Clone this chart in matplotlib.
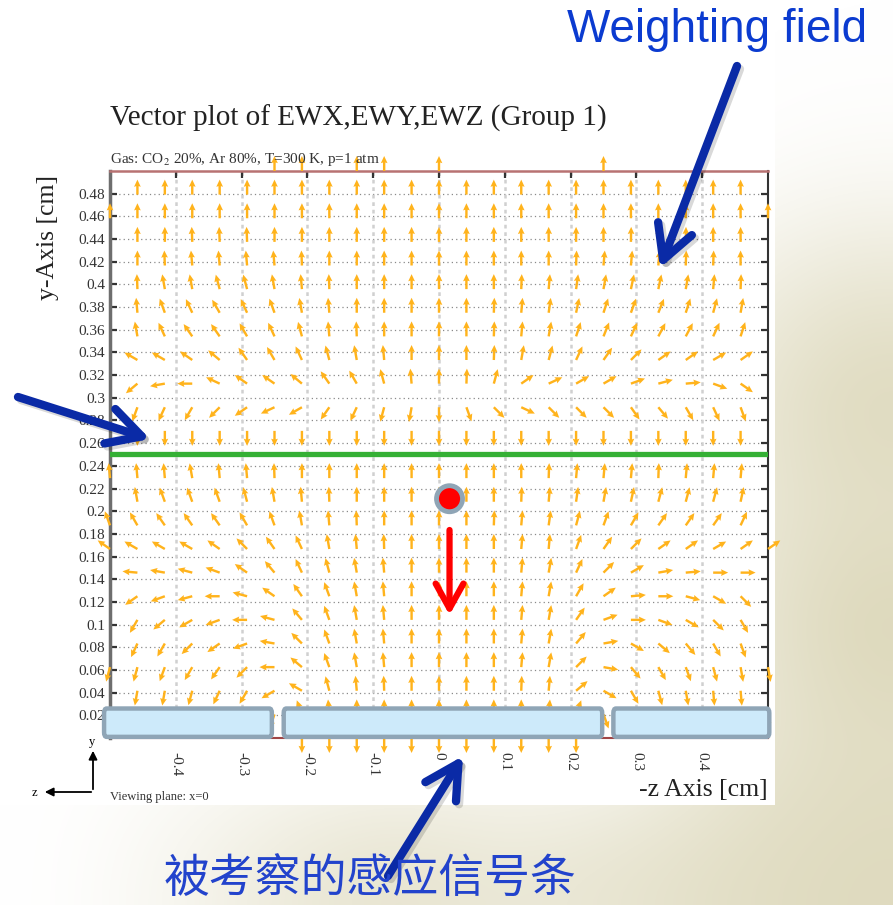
import numpy as np
import matplotlib
matplotlib.use("Agg")
import matplotlib.pyplot as plt
from matplotlib.patches import Rectangle, Circle, FancyBboxPatch

plt.rcParams['font.family'] = ['Liberation Serif', 'DejaVu Serif']
plt.rcParams['mathtext.fontset'] = 'stix'

# Sampling grid of the field plot (-z, y in cm)
z_cols = np.linspace(-0.5, 0.5, 25)
y_rows = np.linspace(0.5, 0.0, 25)   # top row first

N = None
# arrow direction in degrees (90 = up), rows from y=0.5 down to y=0
field_angle = [
    [N, N, N, N, N, N, 90, 90, N, 90, 90, N, 90, N, N, N, N, N, 90, N, N, N, N, N, N],
    [N, 90, 90, 90, 90, 90, 90, 90, 90, 90, 90, 90, 90, 90, 90, 90, 90, 90, 90, 90, 90, 90, 90, 90, N],
    [90, 90, 90, 90, 90, 90, 90, 90, 90, 90, 90, 90, 90, 90, 90, 90, 90, 90, 90, 90, 90, 90, 90, 90, 90],
    [N, 90, 90, 92, 92, 92, 90, 90, 90, 90, 90, 90, 90, 90, 90, 90, 90, 90, 90, 89, 88, 89, 90, 90, N],
    [N, 90, 92, 95, 95, 95, 95, 92, 90, 90, 90, 90, 90, 90, 90, 90, 90, 88, 85, 85, 85, 88, 88, 90, N],
    [N, 92, 100, 100, 105, 105, 100, 95, 92, 90, 90, 90, 90, 90, 90, 88, 85, 82, 80, 78, 78, 80, 85, 88, N],
    [N, 95, 110, 115, 120, 115, 110, 100, 95, 90, 90, 90, 90, 90, 88, 85, 82, 78, 72, 70, 68, 72, 75, 80, N],
    [N, 100, 115, 125, 125, 120, 115, 105, 95, 92, 90, 90, 90, 90, 88, 85, 80, 72, 68, 65, 62, 62, 65, 72, N],
    [N, 150, 150, 145, 140, 125, 120, 115, 105, 100, 95, 90, 90, 90, 88, 80, 75, 65, 55, 45, 35, 35, 30, 35, N],
    [N, 220, 190, 180, 155, 145, 145, 140, 125, 120, 105, 95, 90, 88, 75, 35, 25, 30, 30, 20, 15, 5, 340, 325, N],
    [N, 250, 245, 240, 225, 215, 205, 210, 235, 245, 255, 260, 270, 290, 315, 335, 315, 315, 315, 305, 310, 300, 295, 290, N],
    [N, 270, 270, 270, 270, 270, 270, 270, 270, 270, 270, 270, 270, 270, 270, 270, 270, 270, 270, 270, 270, 270, 270, 270, N],
    [N, N, N, N, N, N, N, N, N, N, N, N, N, N, N, N, N, N, N, N, N, N, N, N, N],
    [95, 95, 95, 100, 95, 95, 92, 90, 90, 90, 90, 90, 90, 90, 90, 90, 88, 85, 85, 85, 88, 85, 85, 85, N],
    [N, 100, 110, 110, 110, 105, 100, 95, 92, 90, 90, 90, 90, 90, 90, 88, 85, 82, 80, 78, 75, 75, 75, 78, N],
    [110, 120, 125, 125, 125, 120, 110, 100, 95, 92, 90, 90, 90, 90, 88, 85, 82, 75, 70, 60, 55, 55, 55, 65, N],
    [145, 150, 150, 150, 145, 135, 125, 115, 100, 95, 92, 90, 90, 90, 90, 85, 85, 70, 55, 45, 35, 35, 30, 35, 35],
    [N, 175, 170, 165, 160, 145, 130, 115, 105, 100, 95, 90, 90, 90, 90, 85, 80, 65, 45, 30, 10, 5, 0, 0, N],
    [N, 215, 200, 195, 180, 165, 145, 125, 110, 100, 95, 90, 90, 90, 90, 85, 80, 60, 35, 5, 0, 345, 330, 315, N],
    [N, 240, 220, 210, 200, 180, 165, 130, 110, 100, 95, 90, 90, 90, 90, 85, 80, 55, 20, 0, 340, 330, 315, 300, N],
    [N, 245, 240, 225, 215, 200, 170, 135, 110, 100, 95, 90, 90, 90, 90, 85, 80, 50, 10, 330, 320, 310, 300, 290, N],
    [255, 255, 250, 240, 235, 225, 180, 140, 110, 100, 95, 90, 90, 90, 90, 85, 80, 45, 350, 310, 300, 290, 285, 280, 280],
    [N, 260, 260, 255, 245, 240, 210, 150, 105, 95, 92, 90, 90, 90, 90, 88, 85, 40, 330, 300, 285, 280, 275, 275, N],
    [N, 265, 265, 265, 260, 255, 250, 110, 95, 90, 90, 90, 90, 90, 90, 90, 85, 70, 290, 280, 275, 275, 270, 270, 270],
    [N, N, N, N, N, N, N, 270, 270, 270, 270, 270, 270, 270, 270, 270, 270, 270, N, N, N, N, N, N, N],
]

# readout strips (z extent, cm) and mesh height
strips = [(-0.509, -0.254), (-0.236, 0.248), (0.265, 0.502)]
strip_height = 0.027
mesh_y = 0.25
charge_pos = (0.016, 0.211)

y_ticks = [round(0.02 * i, 2) for i in range(1, 25)]
x_ticks = [-0.4, -0.3, -0.2, -0.1, 0.0, 0.1, 0.2, 0.3, 0.4]

W, H = 893, 905
fig = plt.figure(figsize=(W / 100, H / 100), dpi=100)

# slide background (beige blotches), then the white screenshot area
bg = fig.add_axes([0, 0, 1, 1], zorder=0)
bg.axis('off')
beige_alpha = np.array([
    [0, 0, 0, 0, 0, 0, 0, 0.0],
    [0, 0, 0, 0, 0, 0, 0, 0.1],
    [0, 0, 0, 0, 0, 0, 0.3, 0.6],
    [0, 0, 0, 0, 0, 0, 0.5, 0.95],
    [0, 0, 0, 0, 0, 0, 0.5, 0.75],
    [0, 0, 0, 0, 0, 0, 0.5, 1.0],
    [0, 0, 0, 0, 0, 0, 0.5, 0.8],
    [0, 0.2, 0.5, 0.7, 0.55, 0.65, 0.8, 0.9],
])
rgba = np.zeros(beige_alpha.shape + (4,))
rgba[..., 0], rgba[..., 1], rgba[..., 2] = 0.86, 0.84, 0.72
rgba[..., 3] = beige_alpha
bg.imshow(rgba, extent=(0, W, H, 0), interpolation='bicubic', aspect='auto')
bg.set_xlim(0, W)
bg.set_ylim(H, 0)
bg.add_patch(Rectangle((0, 0), 775, 805, facecolor='white', edgecolor='none'))

# field plot
ax = fig.add_axes([110 / W, (H - 738) / H, 658 / W, (738 - 171) / H], zorder=2)
ax.set_xlim(-0.5, 0.5)
ax.set_ylim(0, 0.5)

ZZ, YY = np.meshgrid(z_cols, y_rows)
ang = np.array([[np.nan if a is None else a for a in row] for row in field_angle], dtype=float)
U = np.cos(np.radians(ang))
V = np.sin(np.radians(ang))
q = ax.quiver(ZZ, YY, U, V, angles='uv', pivot='tail', units='inches', width=0.024,
              headwidth=2.8, headlength=3.0, headaxislength=2.7,
              scale_units='inches', scale=1 / 0.15, color='#FFB31C', zorder=3)
q.set_clip_on(False)

for yt in y_ticks:
    ax.axhline(yt, color='#8a8a8a', lw=0.9, ls=(0, (1, 2.5)), zorder=1)
for xt in x_ticks:
    ax.axvline(xt, color='#d0d0d0', lw=1.8, ls=(0, (1.5, 1.5)), zorder=1)

ax.set_yticks(y_ticks)
ax.set_yticklabels([f'{v:g}' for v in y_ticks], fontsize=11, color='#333333')
ax.set_xticks(x_ticks)
ax.set_xticklabels([f'{v:g}' for v in x_ticks], fontsize=11, rotation=-90, color='#333333')
ax.tick_params(direction='in', top=True, right=True, length=5, width=1.6, color='#333333')
ax.tick_params(axis='x', pad=10)
ax.spines['left'].set_color('#6e6e6e')
ax.spines['left'].set_linewidth(2.5)
ax.spines['right'].set_color('#333333')
ax.spines['right'].set_linewidth(1.5)
ax.spines['top'].set_color('#b87272')
ax.spines['top'].set_linewidth(1.8)
ax.spines['bottom'].set_color('#a04545')
ax.spines['bottom'].set_linewidth(1.5)

ax.axhline(mesh_y, color='#35b035', lw=3.8, zorder=4)

for z0, z1 in strips:
    ax.add_patch(FancyBboxPatch((z0, 0.001), z1 - z0, strip_height - 0.002,
                                boxstyle='round,pad=0,rounding_size=0.004',
                                facecolor='#cdeafa', edgecolor='#8fa5b6', lw=3.2,
                                zorder=5, clip_on=False))

# overlay in pixel coordinates for slide annotations
ov = fig.add_axes([0, 0, 1, 1], zorder=5)
ov.axis('off')
ov.set_xlim(0, W)
ov.set_ylim(H, 0)

ov.text(110, 118, 'Vector plot of EWX,EWY,EWZ (Group 1)', fontsize=21, ha='left', va='center', color='#222222')
ov.text(110, 159, 'Gas: CO$_2$ 20%, Ar 80%, T=300 K, p=1 atm', fontsize=11, ha='left', va='center', color='#333333')
ov.text(48, 175, 'y-Axis [cm]', fontsize=18.5, rotation=90, ha='center', va='top', color='#222222')
ov.text(768, 790, '-z Axis [cm]', fontsize=18.5, ha='right', va='center', color='#222222')
ov.text(110, 797, 'Viewing plane: x=0', fontsize=9, ha='left', va='center', color='#333333')

# axis triad
ov.annotate('', xy=(93, 748), xytext=(93, 792),
            arrowprops=dict(arrowstyle='-|>,head_length=0.5,head_width=0.25', lw=1.3, color='black'))
ov.annotate('', xy=(42, 792), xytext=(94, 792),
            arrowprops=dict(arrowstyle='-|>,head_length=0.5,head_width=0.25', lw=1.3, color='black'))
ov.text(92, 742, 'y', fontsize=9, ha='center', va='center')
ov.text(34, 793, 'z', fontsize=9, ha='center', va='center')

# charge and its drift direction
cx, cy = ax.transData.transform(charge_pos)
px, py = cx, H - cy
ov.add_patch(Circle((px, py), 13, facecolor='#ff0000', edgecolor='#8fa5b6', lw=3.5, zorder=6))
ov.annotate('', xy=(px, 615), xytext=(px, 530),
            arrowprops=dict(arrowstyle='->,head_length=1.8,head_width=1.0', lw=4.5, color='#ff0000',
                            shrinkA=0, shrinkB=0))

blue = '#0a2aa6'
for tail, head in [((18, 397), (150, 439)), ((737, 66), (660, 268)), ((388, 876), (463, 756))]:
    ov.annotate('', xy=(head[0] + 3, head[1] + 3), xytext=(tail[0] + 3, tail[1] + 3),
                arrowprops=dict(arrowstyle='->,head_length=2.4,head_width=1.3', lw=6, color='#000000',
                                alpha=0.15, shrinkA=0, shrinkB=0))
    ov.annotate('', xy=head, xytext=tail,
                arrowprops=dict(arrowstyle='->,head_length=2.4,head_width=1.3', lw=6, color=blue,
                                shrinkA=0, shrinkB=0))

ov.text(717, 30, 'Weighting field', fontsize=33, ha='center', va='center', color='#0b3bd0',
        family=['Liberation Sans', 'DejaVu Sans'])
ov.text(370, 880, '被考察的感应信号条', fontsize=33, ha='center', va='center', color='#2243cc',
        family=['Noto Sans CJK SC', 'DejaVu Sans'], fontweight='light')

fig.savefig('out.png', dpi=100)
